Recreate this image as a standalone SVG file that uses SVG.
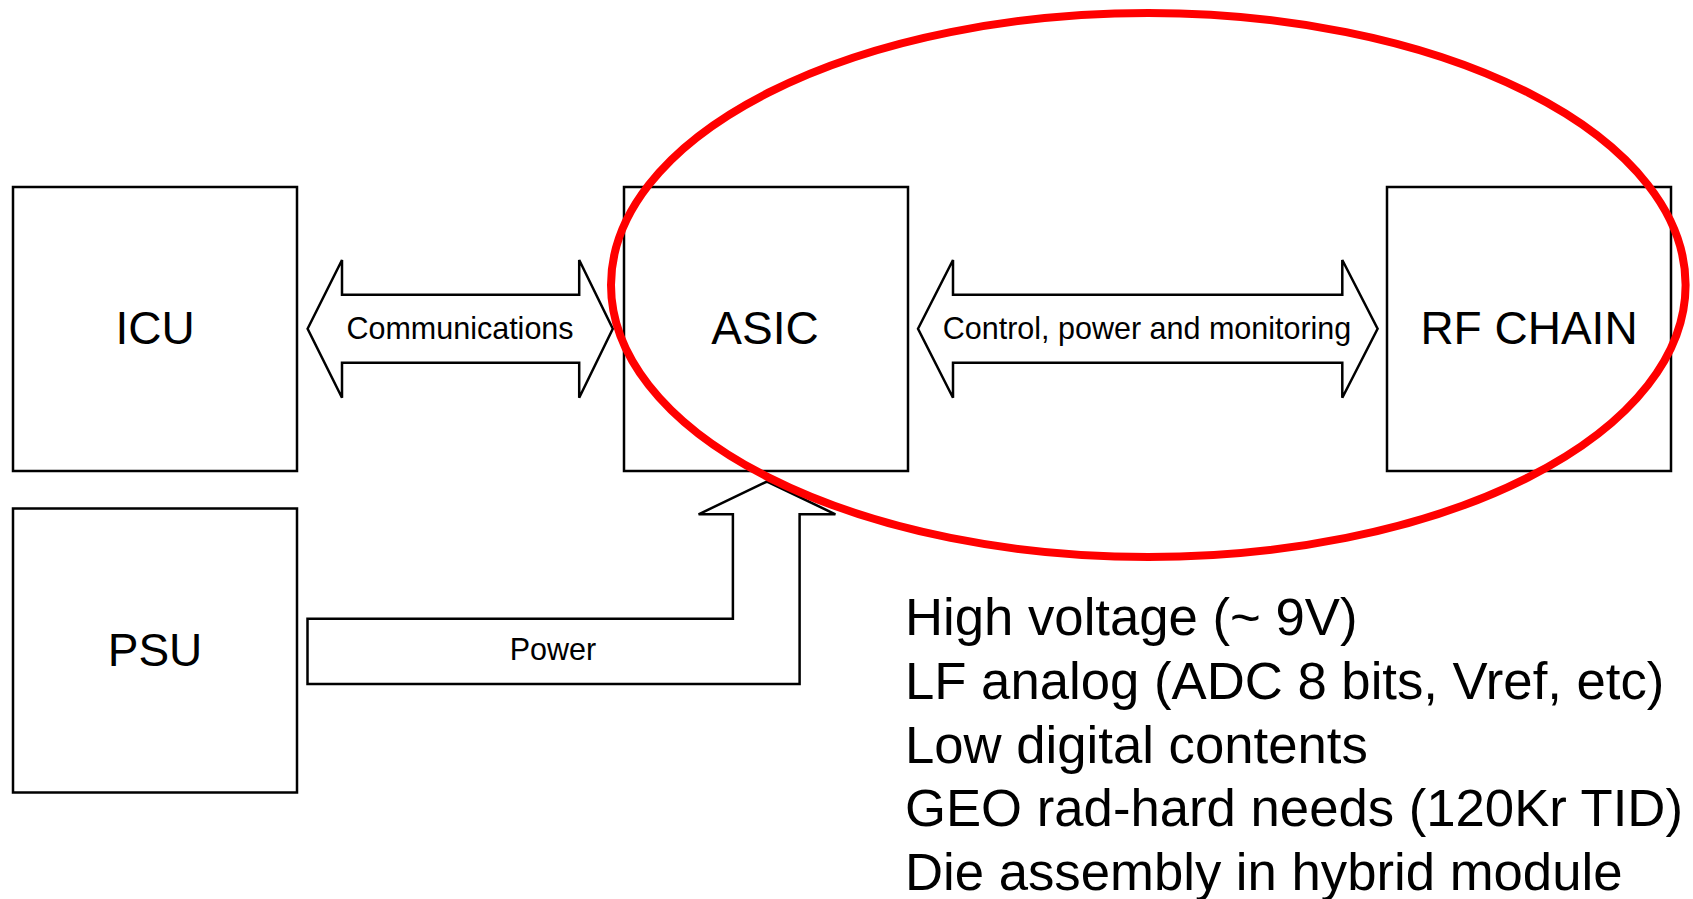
<svg xmlns="http://www.w3.org/2000/svg" width="1693" height="899" viewBox="0 0 1693 899">
<style>
.box{fill:#fff;stroke:#000;stroke-width:2.5}
.arr{fill:#fff;stroke:#000;stroke-width:2.5;stroke-linejoin:miter}
.big{font-family:"Liberation Sans",Arial,sans-serif;font-size:46px;fill:#000;text-anchor:middle}
.lbl{font-family:"Liberation Sans",Arial,sans-serif;font-size:30.5px;fill:#000;text-anchor:middle}
.note{font-family:"Liberation Sans",Arial,sans-serif;font-size:52.7px;fill:#000}
</style>
<rect width="1693" height="899" fill="#fff"/>
<g id="connectors">
<g id="comm">
<polygon class="arr" points="307.6,328.7 342,260 342,294.7 579.2,294.7 579.2,260 612.8,328.7 579.2,397.7 579.2,362.7 342,362.7 342,397.7"/>
<text class="lbl" x="460" y="339">Communications</text>
</g>
<g id="ctrl">
<polygon class="arr" points="918,328.7 953,260 953,294.7 1342.3,294.7 1342.3,260 1377.6,328.7 1342.3,397.7 1342.3,362.7 953,362.7 953,397.7"/>
<text class="lbl" x="1147" y="339">Control, power and monitoring</text>
</g>
<g id="power">
<polygon class="arr" points="767,481.5 835.4,514.3 799.6,514.3 799.6,684 307.5,684 307.5,618.7 732.9,618.7 732.9,514.3 698.6,514.3"/>
<text class="lbl" x="553" y="660">Power</text>
</g>
</g>
<g id="icu"><rect class="box" x="13" y="187" width="284" height="284"/><text class="big" x="155" y="344">ICU</text></g>
<g id="psu"><rect class="box" x="13" y="508.5" width="284" height="284"/><text class="big" x="155" y="666">PSU</text></g>
<g id="asic"><rect class="box" x="624" y="187" width="284" height="284"/><text class="big" x="765" y="344">ASIC</text></g>
<g id="rf"><rect class="box" x="1387" y="187" width="284" height="284"/><text class="big" x="1529" y="344">RF CHAIN</text></g>
<g id="highlight"><ellipse cx="1148.3" cy="285" rx="537.3" ry="272" fill="none" stroke="#ff0000" stroke-width="8"/></g>
<g id="notes">
<text class="note" x="905" y="635">High voltage (~ 9V)</text>
<text class="note" x="905" y="699">LF analog (ADC 8 bits, Vref, etc)</text>
<text class="note" x="905" y="763">Low digital contents</text>
<text class="note" x="905" y="826">GEO rad-hard needs (120Kr TID)</text>
<text class="note" x="905" y="890">Die assembly in hybrid module</text>
</g>
</svg>
